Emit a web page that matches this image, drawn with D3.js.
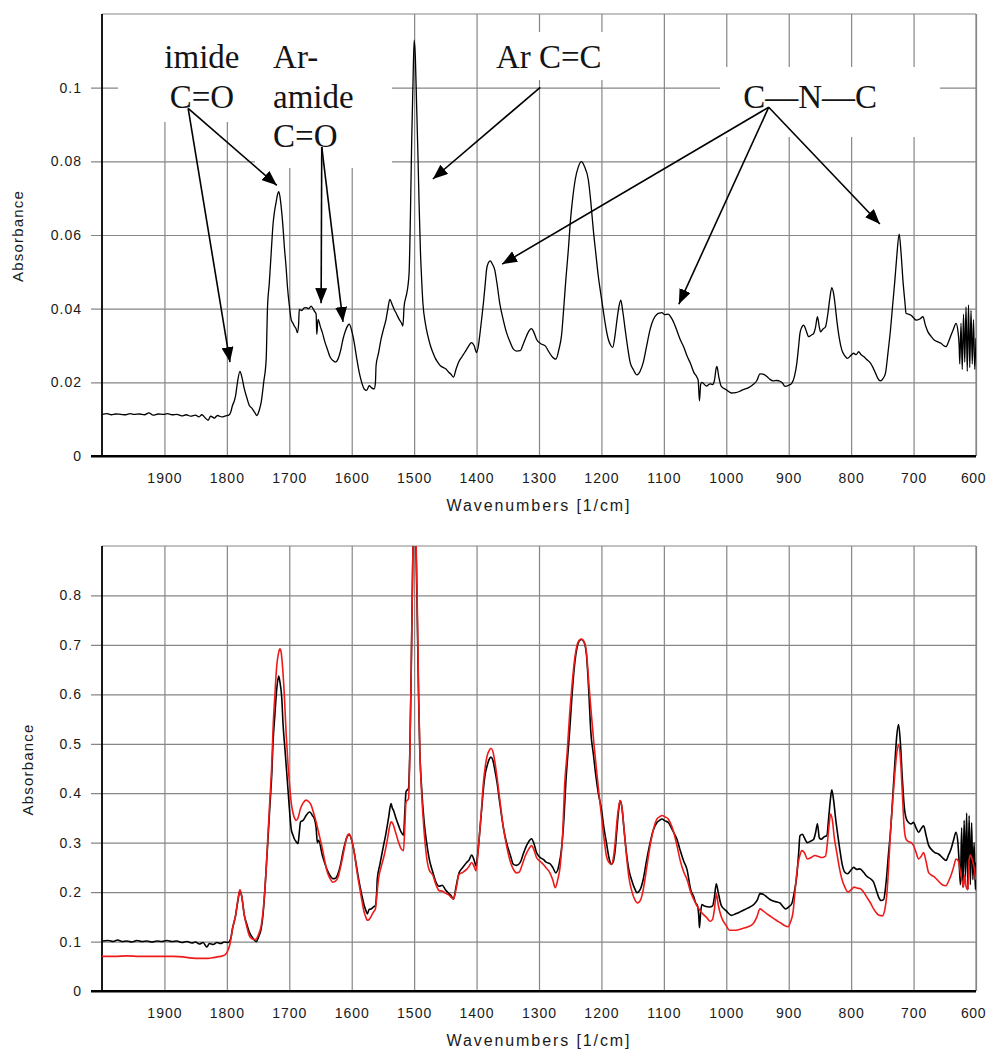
<!DOCTYPE html>
<html>
<head>
<meta charset="utf-8">
<script src="https://cdn.jsdelivr.net/npm/d3@7"></script>
<style>
  body { margin: 0; background: #fff; }
</style>
</head>
<body>
<div id="chart"></div>
<script>
var svgWidth = 988;
var svgHeight = 1050;

// shared x axis (wavenumbers, reversed)
var xTicks = [1900, 1800, 1700, 1600, 1500, 1400, 1300, 1200, 1100, 1000, 900, 800, 700, 600];
var topYTicks = [0, 0.02, 0.04, 0.06, 0.08, 0.1];
var bottomYTicks = [0, 0.1, 0.2, 0.3, 0.4, 0.5, 0.6, 0.7, 0.8];

// [wavenumber, absorbance]
var topSpectrum = [
  [2000, 0.0113], [1992, 0.0115], [1985, 0.0112], [1978, 0.0114], [1970, 0.0113], [1962, 0.0112],
  [1955, 0.0115], [1948, 0.0113], [1940, 0.0114], [1932, 0.0112], [1925, 0.0117], [1918, 0.0111],
  [1910, 0.0114], [1902, 0.0113], [1895, 0.0115], [1888, 0.0112], [1880, 0.0113], [1872, 0.0109],
  [1865, 0.0112], [1858, 0.0108], [1850, 0.0111], [1845, 0.0106], [1840, 0.0112], [1835, 0.0104],
  [1830, 0.0097], [1826, 0.0108], [1820, 0.0103], [1815, 0.0110], [1808, 0.0106], [1802, 0.0109],
  [1797, 0.0111], [1794, 0.0118], [1791, 0.0137], [1788, 0.0150], [1786, 0.0164], [1783, 0.0200],
  [1779, 0.0230], [1776, 0.0215], [1772, 0.0182], [1768, 0.0158], [1764, 0.0137], [1760, 0.0130],
  [1756, 0.0120], [1752, 0.0110], [1748, 0.0125], [1745, 0.0146], [1741, 0.0200], [1737, 0.0263],
  [1735, 0.0398], [1732, 0.0470], [1729, 0.0551], [1726, 0.0630], [1724, 0.0660], [1721, 0.0690],
  [1719, 0.0709], [1717, 0.0718], [1715, 0.0705], [1713, 0.0677], [1710, 0.0620], [1708, 0.0570],
  [1705, 0.0510], [1703, 0.0461], [1700, 0.0410], [1697, 0.0371], [1694, 0.0360], [1692, 0.0353],
  [1689, 0.0345], [1687, 0.0335], [1685, 0.0360], [1684, 0.0398], [1680, 0.0395], [1676, 0.0402],
  [1673, 0.0403], [1669, 0.0400], [1665, 0.0407], [1662, 0.0400], [1660, 0.0394], [1657, 0.0385],
  [1656, 0.0330], [1654, 0.0371], [1650, 0.0350], [1647, 0.0335], [1643, 0.0310], [1639, 0.0290],
  [1635, 0.0270], [1630, 0.0259], [1626, 0.0255], [1622, 0.0263], [1618, 0.0285], [1614, 0.0317],
  [1610, 0.0340], [1606, 0.0355], [1604, 0.0358], [1600, 0.0340], [1596, 0.0308], [1592, 0.0265],
  [1588, 0.0227], [1584, 0.0200], [1580, 0.0182], [1576, 0.0178], [1572, 0.0191], [1568, 0.0185],
  [1564, 0.0182], [1562, 0.0200], [1561, 0.0245], [1557, 0.0280], [1553, 0.0317], [1549, 0.0345],
  [1545, 0.0371], [1542, 0.0400], [1539, 0.0425], [1535, 0.0410], [1532, 0.0398], [1528, 0.0385],
  [1524, 0.0371], [1520, 0.0360], [1518, 0.0353], [1516, 0.0407], [1512, 0.0440], [1510, 0.0461],
  [1508, 0.0500], [1506, 0.0650], [1504, 0.0850], [1502, 0.1000], [1500, 0.1129], [1498, 0.1080],
  [1496, 0.0950], [1494, 0.0822], [1492, 0.0680], [1490, 0.0560], [1488, 0.0480], [1486, 0.0416],
  [1482, 0.0360], [1478, 0.0326], [1474, 0.0300], [1470, 0.0281], [1466, 0.0265], [1462, 0.0254],
  [1458, 0.0245], [1453, 0.0240], [1449, 0.0236], [1445, 0.0228], [1441, 0.0222], [1437, 0.0214],
  [1433, 0.0235], [1429, 0.0254], [1424, 0.0268], [1419, 0.0281], [1414, 0.0295], [1408, 0.0308],
  [1404, 0.0300], [1400, 0.0281], [1397, 0.0300], [1395, 0.0326], [1392, 0.0370], [1389, 0.0416],
  [1386, 0.0470], [1384, 0.0506], [1381, 0.0525], [1378, 0.0530], [1375, 0.0522], [1371, 0.0506],
  [1367, 0.0465], [1363, 0.0416], [1358, 0.0375], [1352, 0.0335], [1346, 0.0308], [1341, 0.0290],
  [1336, 0.0285], [1330, 0.0286], [1325, 0.0305], [1320, 0.0326], [1316, 0.0340], [1312, 0.0346],
  [1308, 0.0335], [1304, 0.0317], [1297, 0.0305], [1290, 0.0299], [1285, 0.0285], [1280, 0.0272],
  [1276, 0.0265], [1273, 0.0263], [1268, 0.0290], [1264, 0.0326], [1260, 0.0410], [1257, 0.0479],
  [1253, 0.0560], [1250, 0.0632], [1246, 0.0700], [1242, 0.0750], [1237, 0.0785], [1232, 0.0799],
  [1227, 0.0785], [1221, 0.0750], [1217, 0.0690], [1213, 0.0614], [1209, 0.0550], [1205, 0.0488],
  [1201, 0.0440], [1197, 0.0394], [1193, 0.0350], [1189, 0.0317], [1185, 0.0300], [1182, 0.0295],
  [1178, 0.0330], [1175, 0.0371], [1172, 0.0405], [1169, 0.0423], [1166, 0.0395], [1162, 0.0344],
  [1158, 0.0295], [1154, 0.0254], [1149, 0.0235], [1143, 0.0220], [1138, 0.0230], [1133, 0.0254],
  [1128, 0.0295], [1122, 0.0344], [1117, 0.0370], [1111, 0.0385], [1107, 0.0388], [1103, 0.0389],
  [1099, 0.0384], [1093, 0.0385], [1088, 0.0375], [1084, 0.0362], [1079, 0.0340], [1074, 0.0317],
  [1068, 0.0295], [1063, 0.0272], [1057, 0.0250], [1052, 0.0227], [1047, 0.0214], [1045, 0.0205],
  [1043, 0.0150], [1041, 0.0195], [1039, 0.0200], [1032, 0.0190], [1026, 0.0196], [1022, 0.0194],
  [1019, 0.0205], [1016, 0.0240], [1015, 0.0243], [1012, 0.0215], [1008, 0.0189], [1000, 0.0180],
  [992, 0.0171], [985, 0.0172], [978, 0.0176], [973, 0.0180], [965, 0.0185], [957, 0.0194],
  [951, 0.0205], [946, 0.0223], [941, 0.0222], [935, 0.0216], [930, 0.0208], [925, 0.0204],
  [919, 0.0205], [914, 0.0203], [910, 0.0198], [906, 0.0189], [900, 0.0192], [895, 0.0198],
  [891, 0.0215], [887, 0.0252], [884, 0.0300], [882, 0.0333], [879, 0.0350], [876, 0.0355],
  [872, 0.0340], [868, 0.0324], [864, 0.0328], [860, 0.0333], [857, 0.0350], [854, 0.0378],
  [851, 0.0350], [849, 0.0337], [845, 0.0345], [841, 0.0351], [837, 0.0390], [834, 0.0430],
  [831, 0.0457], [828, 0.0440], [825, 0.0400], [823, 0.0369], [819, 0.0320], [815, 0.0288],
  [810, 0.0272], [806, 0.0265], [801, 0.0272], [796, 0.0279], [792, 0.0275], [788, 0.0283],
  [784, 0.0275], [780, 0.0270], [775, 0.0262], [769, 0.0252], [765, 0.0240], [761, 0.0225],
  [757, 0.0210], [753, 0.0204], [749, 0.0210], [745, 0.0225], [741, 0.0280], [737, 0.0342],
  [734, 0.0400], [730, 0.0476], [727, 0.0540], [723, 0.0602], [720, 0.0550], [717, 0.0476],
  [714, 0.0420], [712, 0.0387], [708, 0.0385], [704, 0.0382], [700, 0.0375], [696, 0.0369],
  [690, 0.0372], [685, 0.0378], [681, 0.0355], [677, 0.0337], [672, 0.0325], [667, 0.0315],
  [661, 0.0310], [656, 0.0306], [652, 0.0300], [648, 0.0297], [644, 0.0310], [640, 0.0328],
  [636, 0.0345], [632, 0.0360], [629, 0.0340], [627, 0.0300], [626, 0.0250], [624, 0.0360],
  [622, 0.0235], [620, 0.0385], [618, 0.0255], [616, 0.0405], [614, 0.0230], [612, 0.0410],
  [610, 0.0240], [608, 0.0395], [606, 0.0250], [604, 0.0370], [602, 0.0235], [600, 0.0320]
];

// lower panel, black trace
var blackSpectrum = [
  [2000, 0.101], [1990, 0.102], [1982, 0.100], [1975, 0.103], [1968, 0.100], [1960, 0.101],
  [1952, 0.099], [1944, 0.102], [1936, 0.100], [1928, 0.101], [1920, 0.099], [1912, 0.101],
  [1904, 0.100], [1896, 0.102], [1888, 0.100], [1880, 0.101], [1872, 0.098], [1864, 0.100],
  [1856, 0.097], [1850, 0.099], [1844, 0.095], [1838, 0.098], [1832, 0.089], [1828, 0.096],
  [1822, 0.094], [1816, 0.098], [1810, 0.096], [1804, 0.099], [1798, 0.098], [1794, 0.105],
  [1791, 0.126], [1786, 0.153], [1782, 0.185], [1779, 0.203], [1776, 0.190], [1772, 0.153],
  [1768, 0.135], [1764, 0.119], [1760, 0.110], [1756, 0.103], [1753, 0.100], [1749, 0.110],
  [1745, 0.126], [1741, 0.170], [1737, 0.247], [1734, 0.310], [1731, 0.376], [1728, 0.440],
  [1726, 0.504], [1723, 0.560], [1720, 0.612], [1717, 0.637], [1715, 0.625], [1712, 0.592],
  [1710, 0.540], [1707, 0.490], [1704, 0.440], [1701, 0.389], [1699, 0.355], [1697, 0.328],
  [1694, 0.315], [1692, 0.308], [1689, 0.302], [1686, 0.298], [1684, 0.320], [1682, 0.342],
  [1678, 0.345], [1673, 0.355], [1670, 0.360], [1667, 0.362], [1663, 0.355], [1660, 0.349],
  [1657, 0.330], [1655, 0.300], [1653, 0.305], [1647, 0.274], [1643, 0.258], [1639, 0.244],
  [1635, 0.234], [1630, 0.227], [1626, 0.228], [1622, 0.237], [1618, 0.255], [1614, 0.281],
  [1610, 0.302], [1607, 0.313], [1604, 0.316], [1600, 0.305], [1596, 0.281], [1592, 0.250],
  [1588, 0.220], [1584, 0.195], [1580, 0.173], [1577, 0.162], [1575, 0.156], [1572, 0.165],
  [1569, 0.166], [1565, 0.170], [1562, 0.173], [1560, 0.200], [1559, 0.227], [1555, 0.255],
  [1550, 0.288], [1545, 0.320], [1541, 0.350], [1537, 0.379], [1535, 0.370], [1533, 0.365],
  [1529, 0.349], [1525, 0.335], [1521, 0.322], [1517, 0.315], [1515, 0.360], [1513, 0.403],
  [1509, 0.410], [1507, 0.480], [1505, 0.620], [1503, 0.800], [1501, 0.950], [1499, 0.980],
  [1497, 0.900], [1495, 0.760], [1493, 0.600], [1491, 0.490], [1488, 0.410], [1484, 0.342],
  [1480, 0.300], [1476, 0.268], [1470, 0.240], [1465, 0.220], [1460, 0.212], [1455, 0.214],
  [1450, 0.205], [1445, 0.198], [1441, 0.193], [1437, 0.186], [1433, 0.210], [1428, 0.239],
  [1422, 0.250], [1416, 0.260], [1412, 0.265], [1408, 0.275], [1404, 0.265], [1401, 0.253],
  [1398, 0.280], [1395, 0.321], [1392, 0.365], [1389, 0.409], [1386, 0.440], [1383, 0.456],
  [1380, 0.468], [1377, 0.473], [1374, 0.467], [1371, 0.449], [1367, 0.420], [1363, 0.382],
  [1357, 0.330], [1352, 0.300], [1346, 0.275], [1341, 0.256], [1336, 0.254], [1330, 0.260],
  [1325, 0.278], [1320, 0.294], [1316, 0.303], [1312, 0.308], [1308, 0.298], [1304, 0.280],
  [1298, 0.270], [1293, 0.266], [1288, 0.260], [1283, 0.258], [1278, 0.250], [1273, 0.239],
  [1268, 0.255], [1264, 0.287], [1260, 0.350], [1257, 0.422], [1254, 0.475], [1251, 0.524],
  [1247, 0.600], [1243, 0.660], [1239, 0.695], [1235, 0.709], [1232, 0.711], [1228, 0.706],
  [1224, 0.680], [1220, 0.600], [1217, 0.524], [1213, 0.480], [1209, 0.436], [1205, 0.400],
  [1200, 0.368], [1196, 0.330], [1192, 0.300], [1188, 0.270], [1184, 0.256], [1181, 0.262],
  [1178, 0.285], [1175, 0.330], [1172, 0.370], [1170, 0.385], [1167, 0.370], [1164, 0.330],
  [1160, 0.280], [1156, 0.245], [1152, 0.226], [1147, 0.208], [1143, 0.199], [1138, 0.205],
  [1133, 0.226], [1128, 0.262], [1122, 0.300], [1117, 0.325], [1111, 0.341], [1107, 0.345],
  [1103, 0.348], [1098, 0.344], [1093, 0.341], [1088, 0.330], [1084, 0.320], [1079, 0.307],
  [1074, 0.285], [1068, 0.262], [1063, 0.246], [1057, 0.205], [1052, 0.190], [1049, 0.178],
  [1046, 0.172], [1044, 0.150], [1043, 0.128], [1041, 0.160], [1039, 0.175], [1035, 0.172],
  [1027, 0.170], [1022, 0.172], [1019, 0.190], [1016, 0.217], [1013, 0.200], [1008, 0.173],
  [1000, 0.162], [992, 0.153], [985, 0.156], [978, 0.160], [970, 0.165], [962, 0.170],
  [955, 0.176], [950, 0.185], [946, 0.197], [940, 0.195], [935, 0.190], [930, 0.185],
  [925, 0.182], [919, 0.180], [914, 0.178], [910, 0.172], [905, 0.166], [900, 0.170],
  [895, 0.177], [891, 0.200], [887, 0.234], [884, 0.280], [882, 0.314], [878, 0.317],
  [875, 0.310], [870, 0.300], [865, 0.303], [860, 0.307], [857, 0.320], [854, 0.338],
  [851, 0.310], [848, 0.307], [843, 0.312], [839, 0.314], [836, 0.350], [833, 0.390],
  [831, 0.407], [828, 0.385], [825, 0.350], [822, 0.321], [818, 0.285], [814, 0.254],
  [810, 0.240], [806, 0.237], [800, 0.245], [796, 0.250], [791, 0.246], [786, 0.247],
  [780, 0.240], [775, 0.232], [769, 0.227], [764, 0.220], [760, 0.205], [756, 0.190],
  [752, 0.183], [748, 0.185], [744, 0.220], [740, 0.280], [737, 0.321], [733, 0.400],
  [730, 0.460], [727, 0.515], [724, 0.539], [721, 0.500], [718, 0.430], [715, 0.374],
  [712, 0.350], [708, 0.341], [704, 0.338], [700, 0.341], [696, 0.330], [692, 0.321],
  [688, 0.328], [684, 0.334], [680, 0.315], [676, 0.295], [672, 0.287], [666, 0.280],
  [660, 0.277], [654, 0.270], [648, 0.264], [644, 0.275], [640, 0.287], [636, 0.305],
  [632, 0.321], [629, 0.300], [627, 0.260], [625, 0.215], [623, 0.330], [621, 0.210],
  [619, 0.345], [617, 0.230], [615, 0.360], [613, 0.205], [611, 0.355], [609, 0.215],
  [607, 0.340], [605, 0.225], [603, 0.300], [601, 0.205], [600, 0.260]
];

// lower panel, red trace
var redSpectrum = [
  [2000, 0.070], [1980, 0.070], [1960, 0.071], [1940, 0.070], [1920, 0.070], [1900, 0.070],
  [1885, 0.070], [1870, 0.069], [1860, 0.067], [1850, 0.066], [1840, 0.066], [1830, 0.066],
  [1820, 0.068], [1810, 0.070], [1803, 0.073], [1799, 0.080], [1795, 0.095], [1791, 0.125],
  [1786, 0.153], [1782, 0.188], [1779, 0.205], [1776, 0.190], [1772, 0.153], [1768, 0.130],
  [1764, 0.112], [1760, 0.106], [1756, 0.104], [1753, 0.105], [1749, 0.115], [1745, 0.132],
  [1741, 0.175], [1737, 0.247], [1734, 0.320], [1731, 0.389], [1728, 0.460], [1726, 0.531],
  [1723, 0.600], [1720, 0.659], [1717, 0.685], [1715, 0.692], [1713, 0.685], [1711, 0.659],
  [1708, 0.600], [1705, 0.520], [1702, 0.457], [1699, 0.410], [1697, 0.382], [1694, 0.360],
  [1691, 0.348], [1689, 0.345], [1686, 0.350], [1682, 0.369], [1678, 0.380], [1673, 0.386],
  [1669, 0.383], [1665, 0.376], [1661, 0.360], [1657, 0.342], [1652, 0.315], [1647, 0.288],
  [1643, 0.262], [1639, 0.240], [1635, 0.228], [1630, 0.220], [1626, 0.222], [1622, 0.230],
  [1618, 0.250], [1614, 0.274], [1610, 0.300], [1607, 0.314], [1604, 0.318], [1600, 0.305],
  [1596, 0.281], [1592, 0.245], [1588, 0.214], [1584, 0.185], [1580, 0.159], [1577, 0.148],
  [1575, 0.143], [1572, 0.145], [1568, 0.153], [1565, 0.160], [1562, 0.166], [1560, 0.190],
  [1557, 0.227], [1552, 0.255], [1548, 0.274], [1543, 0.305], [1540, 0.328], [1537, 0.342],
  [1534, 0.338], [1530, 0.322], [1526, 0.305], [1521, 0.288], [1517, 0.284], [1515, 0.330],
  [1513, 0.382], [1509, 0.389], [1507, 0.470], [1505, 0.620], [1503, 0.800], [1501, 0.960],
  [1499, 1.000], [1497, 0.920], [1495, 0.780], [1493, 0.620], [1491, 0.490], [1488, 0.400],
  [1484, 0.322], [1480, 0.270], [1476, 0.245], [1470, 0.234], [1465, 0.215], [1460, 0.203],
  [1455, 0.202], [1450, 0.198], [1445, 0.195], [1441, 0.190], [1437, 0.186], [1433, 0.205],
  [1428, 0.236], [1422, 0.240], [1416, 0.246], [1412, 0.252], [1408, 0.260], [1404, 0.252],
  [1401, 0.243], [1398, 0.275], [1395, 0.321], [1392, 0.370], [1389, 0.422], [1386, 0.455],
  [1383, 0.476], [1380, 0.486], [1377, 0.491], [1374, 0.485], [1371, 0.466], [1367, 0.430],
  [1363, 0.389], [1357, 0.330], [1352, 0.294], [1346, 0.262], [1341, 0.246], [1336, 0.239],
  [1332, 0.240], [1327, 0.255], [1322, 0.273], [1316, 0.288], [1312, 0.294], [1308, 0.285],
  [1304, 0.270], [1298, 0.262], [1293, 0.256], [1288, 0.248], [1283, 0.240], [1278, 0.225],
  [1274, 0.209], [1270, 0.225], [1266, 0.253], [1262, 0.320], [1259, 0.415], [1255, 0.480],
  [1251, 0.558], [1247, 0.620], [1243, 0.670], [1239, 0.700], [1235, 0.710], [1232, 0.712],
  [1228, 0.707], [1224, 0.685], [1220, 0.620], [1216, 0.558], [1212, 0.500], [1208, 0.449],
  [1204, 0.400], [1200, 0.355], [1196, 0.310], [1192, 0.273], [1188, 0.260], [1184, 0.256],
  [1181, 0.268], [1178, 0.300], [1175, 0.345], [1172, 0.375], [1170, 0.385], [1167, 0.370],
  [1164, 0.330], [1160, 0.275], [1156, 0.230], [1152, 0.205], [1147, 0.186], [1142, 0.178],
  [1137, 0.185], [1133, 0.205], [1128, 0.245], [1122, 0.294], [1117, 0.325], [1111, 0.348],
  [1107, 0.352], [1103, 0.355], [1098, 0.352], [1093, 0.348], [1088, 0.335], [1084, 0.320],
  [1079, 0.294], [1074, 0.265], [1068, 0.240], [1063, 0.226], [1057, 0.200], [1052, 0.185],
  [1047, 0.172], [1041, 0.161], [1036, 0.154], [1031, 0.148], [1026, 0.141], [1022, 0.145],
  [1019, 0.165], [1016, 0.197], [1013, 0.175], [1008, 0.150], [1000, 0.132], [995, 0.123],
  [985, 0.123], [975, 0.126], [965, 0.130], [957, 0.136], [951, 0.150], [946, 0.166],
  [941, 0.162], [935, 0.156], [928, 0.150], [920, 0.143], [912, 0.137], [906, 0.132],
  [901, 0.130], [897, 0.140], [893, 0.160], [890, 0.200], [887, 0.240], [882, 0.275],
  [879, 0.284], [875, 0.280], [870, 0.267], [864, 0.270], [858, 0.274], [852, 0.272],
  [847, 0.270], [841, 0.273], [838, 0.300], [835, 0.340], [833, 0.358], [830, 0.345],
  [827, 0.310], [823, 0.280], [819, 0.250], [815, 0.227], [810, 0.210], [805, 0.200],
  [800, 0.205], [795, 0.210], [790, 0.208], [785, 0.207], [780, 0.200], [775, 0.190],
  [769, 0.178], [764, 0.166], [759, 0.157], [755, 0.153], [750, 0.152], [746, 0.165],
  [743, 0.193], [740, 0.250], [737, 0.321], [733, 0.390], [730, 0.440], [727, 0.480],
  [724, 0.499], [721, 0.470], [718, 0.400], [715, 0.330], [712, 0.307], [708, 0.302],
  [704, 0.300], [700, 0.294], [696, 0.280], [692, 0.267], [688, 0.272], [684, 0.280],
  [680, 0.262], [676, 0.240], [672, 0.235], [666, 0.230], [660, 0.222], [654, 0.215],
  [648, 0.213], [644, 0.222], [640, 0.234], [636, 0.250], [632, 0.267], [628, 0.262],
  [625, 0.240], [622, 0.220], [620, 0.210], [618, 0.235], [616, 0.212], [613, 0.205],
  [611, 0.265], [609, 0.275], [607, 0.270], [605, 0.260], [603, 0.250], [601, 0.230],
  [600, 0.225]
];

// band labels on the upper spectrum: text anchor + arrow start/targets, in data units
var annotations = [
  { lines: ["imide", "C=O"], anchor: "middle", at: [1840, 0.1053],
    from: [1862, 0.0944], to: [[1795, 0.0255], [1720, 0.0735]] },
  { lines: ["Ar-", "amide", "C=O"], anchor: "start", at: [1726, 0.1053],
    from: [1648, 0.0839], to: [[1649, 0.0415], [1614, 0.0364]] },
  { lines: ["Ar C=C"], anchor: "start", at: [1369, 0.1053],
    from: [1298, 0.1001], to: [[1470, 0.0752]] },
  { lines: ["C\u2014N\u2014C"], anchor: "start", at: [973, 0.0944],
    from: [932, 0.0947], to: [[1359, 0.0521], [1076, 0.0412], [754, 0.0630]] }
];

// white patches behind the labels (page pixels)
var labelBoxes = [
  { x: 118, y: 14, w: 140, h: 108 },
  { x: 255, y: 14, w: 137, h: 154 },
  { x: 490, y: 32, w: 122, h: 48 },
  { x: 720, y: 67, w: 220, h: 70 }
];

var plotLeft = 102;
var plotRight = 976;
var tickStart = 91;
var gridColor = "#868686";
var axisFont = "'Liberation Sans', Arial, sans-serif";

var panels = [
  { top: 14, bottom: 456, yMax: 0.12, yTicks: topYTicks, yLabelX: 17.5,
    series: [{ data: topSpectrum, color: "#000", width: 1.3 }], annotated: true },
  { top: 546, bottom: 991, yMax: 0.9, yTicks: bottomYTicks, yLabelX: 27,
    series: [{ data: blackSpectrum, color: "#000", width: 1.6 },
             { data: redSpectrum, color: "#ee1b1b", width: 1.6 }], annotated: false }
];

var svg = d3.select("#chart")
  .append("svg")
  .attr("width", svgWidth)
  .attr("height", svgHeight)
  .style("background", "#fff");

svg.append("defs").append("marker")
  .attr("id", "arrowhead")
  .attr("viewBox", "0 0 15 12")
  .attr("refX", 15)
  .attr("refY", 6)
  .attr("markerWidth", 15)
  .attr("markerHeight", 12)
  .attr("markerUnits", "userSpaceOnUse")
  .attr("orient", "auto")
  .append("path")
  .attr("d", "M0,0 L15,6 L0,12 Z")
  .attr("fill", "#000");

var x = d3.scaleLinear().domain([2000, 600]).range([plotLeft, plotRight]);

function drawPanel(p, i) {
  var y = d3.scaleLinear().domain([0, p.yMax]).range([p.bottom, p.top]);
  var g = svg.append("g");

  // horizontal grid lines + y labels
  var yAxis = g.append("g")
    .attr("transform", `translate(${tickStart},0)`)
    .call(d3.axisLeft(y)
      .tickValues(p.yTicks)
      .tickSize(-(plotRight - tickStart))
      .tickPadding(9)
      .tickFormat(d => String(d)));
  yAxis.select(".domain").remove();
  yAxis.selectAll(".tick line")
    .attr("stroke", d => d === 0 ? "#000" : gridColor)
    .attr("stroke-width", d => d === 0 ? 1.8 : 1.2);
  yAxis.selectAll(".tick text")
    .attr("fill", "#1a1a1a")
    .style("font-family", axisFont)
    .style("font-size", "14px")
    .style("letter-spacing", "1px");

  // vertical grid lines + x labels
  var xAxis = g.append("g")
    .attr("transform", `translate(0,${p.bottom})`)
    .call(d3.axisBottom(x)
      .tickValues(xTicks)
      .tickSize(-(p.bottom - p.top))
      .tickPadding(17)
      .tickFormat(d => String(d)));
  xAxis.select(".domain").remove();
  xAxis.selectAll(".tick line")
    .attr("stroke", gridColor)
    .attr("stroke-width", 1.2);
  xAxis.selectAll(".tick text")
    .attr("fill", "#1a1a1a")
    .attr("dx", d => d === 600 ? -3 : 0)
    .style("font-family", axisFont)
    .style("font-size", "14px")
    .style("letter-spacing", d => d === 600 ? "0.6px" : "1px");

  if (p.annotated) {
    g.selectAll("rect.labelbox")
      .data(labelBoxes)
      .enter()
      .append("rect")
      .attr("class", "labelbox")
      .attr("x", d => d.x)
      .attr("y", d => d.y)
      .attr("width", d => d.w)
      .attr("height", d => d.h)
      .attr("fill", "#fff");
  }

  // frame: top/right grey, left/bottom black
  g.append("line")
    .attr("x1", plotLeft).attr("x2", plotRight)
    .attr("y1", p.top).attr("y2", p.top)
    .attr("stroke", gridColor).attr("stroke-width", 1.2);
  g.append("line")
    .attr("x1", plotRight).attr("x2", plotRight)
    .attr("y1", p.top).attr("y2", p.bottom)
    .attr("stroke", gridColor).attr("stroke-width", 1.2);
  g.append("line")
    .attr("x1", plotLeft).attr("x2", plotLeft)
    .attr("y1", p.top).attr("y2", p.bottom)
    .attr("stroke", "#000").attr("stroke-width", 1.8);
  g.append("line")
    .attr("x1", tickStart).attr("x2", plotRight)
    .attr("y1", p.bottom).attr("y2", p.bottom)
    .attr("stroke", "#000").attr("stroke-width", 1.8);

  // clip the spectra to the plot box
  svg.select("defs").append("clipPath")
    .attr("id", "clip" + i)
    .append("rect")
    .attr("x", plotLeft)
    .attr("y", p.top)
    .attr("width", plotRight - plotLeft)
    .attr("height", p.bottom - p.top);

  var line = d3.line()
    .x(d => x(d[0]))
    .y(d => y(d[1]))
    .curve(d3.curveMonotoneX);

  g.append("g")
    .attr("clip-path", `url(#clip${i})`)
    .selectAll("path")
    .data(p.series)
    .enter()
    .append("path")
    .attr("d", d => line(d.data))
    .attr("fill", "none")
    .attr("stroke", d => d.color)
    .attr("stroke-width", d => d.width)
    .attr("stroke-linejoin", "round");

  // axis titles
  g.append("text")
    .attr("x", (plotLeft + plotRight) / 2)
    .attr("y", p.bottom + 55)
    .attr("text-anchor", "middle")
    .attr("fill", "#1a1a1a")
    .style("font-family", axisFont)
    .style("font-size", "16px")
    .style("letter-spacing", "1.9px")
    .text("Wavenumbers [1/cm]");

  g.append("text")
    .attr("transform", `translate(${p.yLabelX},${(p.top + p.bottom) / 2 + 1}) rotate(-90)`)
    .attr("text-anchor", "middle")
    .attr("dominant-baseline", "central")
    .attr("fill", "#1a1a1a")
    .style("font-family", axisFont)
    .style("font-size", "15px")
    .style("letter-spacing", "1.2px")
    .text("Absorbance");

  if (p.annotated) {
    annotations.forEach(function(a) {
      var t = g.append("text")
        .attr("x", x(a.at[0]))
        .attr("y", y(a.at[1]))
        .attr("text-anchor", a.anchor)
        .attr("fill", "#141414")
        .style("font-family", "'Liberation Serif', 'Times New Roman', serif")
        .style("font-size", "33px");
      a.lines.forEach(function(txt, k) {
        t.append("tspan")
          .attr("x", x(a.at[0]))
          .attr("dy", k === 0 ? 0 : 39.5)
          .text(txt);
      });
      a.to.forEach(function(tip) {
        g.append("line")
          .attr("x1", x(a.from[0]))
          .attr("y1", y(a.from[1]))
          .attr("x2", x(tip[0]))
          .attr("y2", y(tip[1]))
          .attr("stroke", "#000")
          .attr("stroke-width", 1.6)
          .attr("marker-end", "url(#arrowhead)");
      });
    });
  }
}

panels.forEach(drawPanel);
</script>
</body>
</html>
